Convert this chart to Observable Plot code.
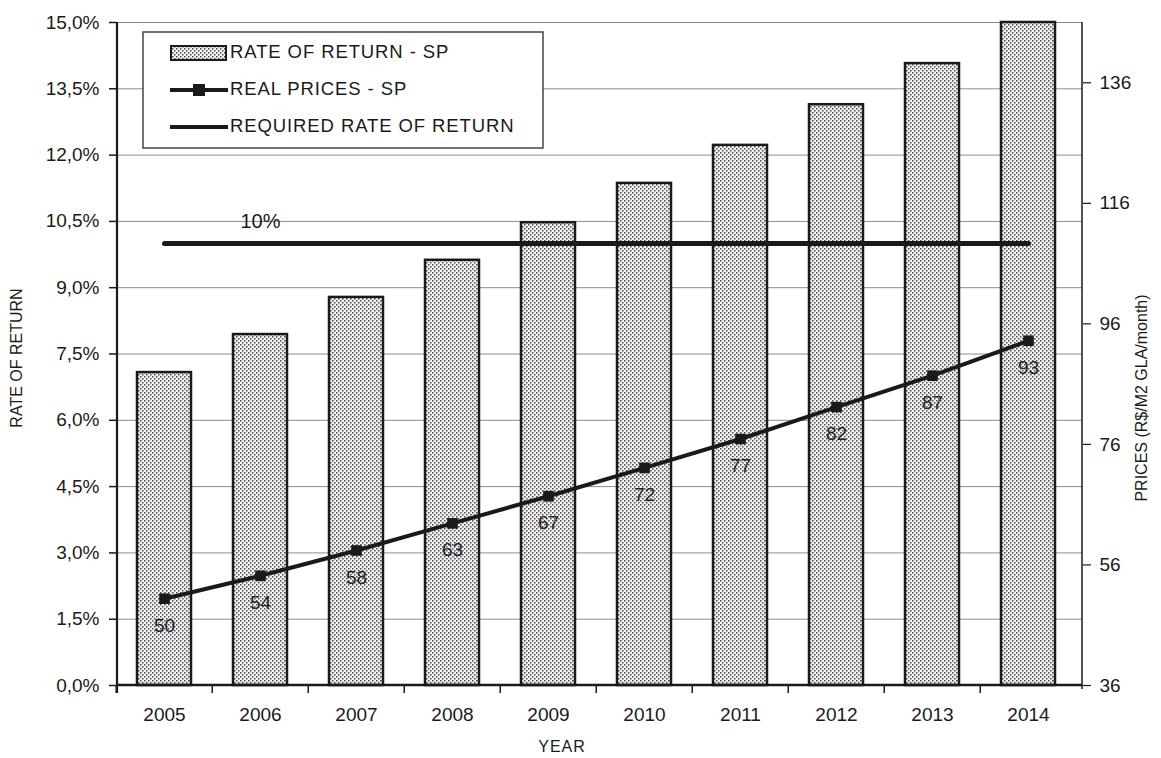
<!DOCTYPE html>
<html><head><meta charset="utf-8">
<script src="https://cdn.jsdelivr.net/npm/d3@7"></script>
<script src="https://cdn.jsdelivr.net/npm/@observablehq/plot@0.6"></script>
<style>
html,body{margin:0;padding:0;background:#fff;}
#chart{position:relative;width:1161px;height:758px;}
#chart svg{display:block}
</style></head><body><div id="chart"></div>
<script>
// ---- data ----
const years = [2005, 2006, 2007, 2008, 2009, 2010, 2011, 2012, 2013, 2014];
const rateOfReturn = [7.08, 7.94, 8.78, 9.62, 10.47, 11.36, 12.22, 13.14, 14.07, 15.0]; // %
const realPrices = [50.4, 54.2, 58.4, 62.9, 67.4, 72.1, 76.9, 82.2, 87.4, 93.2];      // R$/m2 GLA/month
const requiredRate = 10; // %
const rateTicks = [0, 1.5, 3, 4.5, 6, 7.5, 9, 10.5, 12, 13.5, 15];
const priceTicks = [36, 56, 76, 96, 116, 136];
const rateRange = [0, 15];
const priceRange = [36, 146];
const seriesNames = ["RATE OF RETURN - SP", "REAL PRICES - SP", "REQUIRED RATE OF RETURN"];

// ---- layout ----
const W = 1161, H = 758, mL = 117, mR = 79, mT = 22, mB = 73;
const step = (W - mL - mR) / years.length;
const ink = "#1a1a1a";
const toRate = p => rateRange[0] + (p - priceRange[0]) / (priceRange[1] - priceRange[0]) * (rateRange[1] - rateRange[0]);
const fromRate = r => priceRange[0] + (r - rateRange[0]) / (rateRange[1] - rateRange[0]) * (priceRange[1] - priceRange[0]);
const data = years.map((year, i) => ({year, rate: rateOfReturn[i], price: realPrices[i]}));
const pctFmt = d => d.toFixed(1).replace(".", ",") + "%";

const chart = Plot.plot({
  width: W, height: H, marginLeft: mL, marginRight: mR, marginTop: mT, marginBottom: mB,
  style: {fontFamily: "'Liberation Sans', Arial, sans-serif", fontSize: "19px", color: ink, background: "#fff", overflow: "visible"},
  x: {type: "band", domain: years, paddingInner: 0.44, paddingOuter: 0.22, align: 0.42, label: null},
  y: {domain: rateRange, label: null},
  marks: [
    Plot.ruleY(rateTicks.filter(d => d > 0), {stroke: "#8a8a8a", strokeWidth: 1}),
    Plot.barY(data, {x: "year", y: "rate", fill: "url(#dots)", stroke: ink, strokeWidth: 2.5}),
    Plot.lineY(years, {x: d => d, y: () => requiredRate, stroke: ink, strokeWidth: 5}),
    Plot.text([requiredRate], {x: () => years[1], y: d => d, text: d => d + "%", dy: -22, fontSize: 20, fill: ink}),
    Plot.line(data, {x: "year", y: d => toRate(d.price), stroke: ink, strokeWidth: 4}),
    Plot.dot(data, {x: "year", y: d => toRate(d.price), symbol: "square", r: 6, fill: ink, stroke: "none"}),
    Plot.text(data, {x: "year", y: d => toRate(d.price), text: d => d3.format(".0f")(d.price), dy: 27, fill: "#222"}),
    Plot.axisY(rateTicks, {anchor: "left", tickFormat: pctFmt, tickSize: 8, tickPadding: 10, label: null, stroke: ink, strokeWidth: 1.5}),
    Plot.axisY(priceTicks.map(toRate), {anchor: "right", tickFormat: d => String(Math.round(fromRate(d))), tickSize: 8, tickPadding: 9, label: null, stroke: ink, strokeWidth: 1.2}),
    Plot.axisX({tickSize: 0, tickPadding: 22, tickFormat: d => String(d), label: null}),
    Plot.ruleX(years, {x: d => d, dx: -step / 2, y1: 0, y2: 0, insetBottom: -8, stroke: ink, strokeWidth: 1.5})
  ]
});
document.getElementById("chart").appendChild(chart);

const svg = d3.select(chart);
// frame lines: left, right and bottom axis lines
svg.append("line").attr("x1", mL).attr("x2", mL).attr("y1", mT).attr("y2", H - mB + 8).attr("stroke", ink).attr("stroke-width", 2.2);
svg.append("line").attr("x1", W - mR).attr("x2", W - mR).attr("y1", mT).attr("y2", H - mB + 4).attr("stroke", ink).attr("stroke-width", 1.5);
svg.append("line").attr("x1", mL).attr("x2", W - mR).attr("y1", H - mB).attr("y2", H - mB).attr("stroke", ink).attr("stroke-width", 2.5);

const defs = svg.append("defs");
const pat = defs.append("pattern").attr("id", "dots").attr("width", 4).attr("height", 4).attr("patternUnits", "userSpaceOnUse");
pat.append("rect").attr("width", 4).attr("height", 4).attr("fill", "#f2f2f2");
pat.append("rect").attr("x", 0).attr("y", 0).attr("width", 1.5).attr("height", 1.5).attr("fill", "#4a4a4a");
pat.append("rect").attr("x", 2).attr("y", 2).attr("width", 1.5).attr("height", 1.5).attr("fill", "#4a4a4a");

// axis titles
const titleStyle = s => s.attr("font-family", "'Liberation Sans', Arial, sans-serif").attr("fill", ink).attr("text-anchor", "middle").attr("dominant-baseline", "middle");
svg.append("text").call(titleStyle).attr("transform", "translate(18,358) rotate(-90)").attr("font-size", 16).text("RATE OF RETURN");
svg.append("text").call(titleStyle).attr("transform", "translate(1143,398) rotate(-90)").attr("font-size", 16).text("PRICES (R$/M2 GLA/month)");
svg.append("text").call(titleStyle).attr("x", 562).attr("y", 748).attr("font-size", 16).attr("letter-spacing", 1).text("YEAR");

// legend
const lg = svg.append("g");
lg.append("rect").attr("x", 143).attr("y", 32).attr("width", 400).attr("height", 116).attr("fill", "#fff").attr("stroke", "#444").attr("stroke-width", 1.5);
lg.append("rect").attr("x", 171).attr("y", 46).attr("width", 55).attr("height", 14).attr("fill", "url(#dots)").attr("stroke", ink).attr("stroke-width", 2);
lg.append("line").attr("x1", 170).attr("x2", 228).attr("y1", 90).attr("y2", 90).attr("stroke", ink).attr("stroke-width", 4);
lg.append("rect").attr("x", 193).attr("y", 84).attr("width", 12).attr("height", 12).attr("fill", ink);
lg.append("line").attr("x1", 170).attr("x2", 228).attr("y1", 127).attr("y2", 127).attr("stroke", ink).attr("stroke-width", 4);
[53, 90, 127].forEach((y, i) => {
  lg.append("text").attr("x", 230).attr("y", y).attr("dominant-baseline", "middle").attr("text-anchor", "start")
    .attr("font-family", "'Liberation Sans', Arial, sans-serif").attr("font-size", 18.5).attr("letter-spacing", 0.9)
    .attr("fill", ink).text(seriesNames[i]);
});
</script></body></html>
